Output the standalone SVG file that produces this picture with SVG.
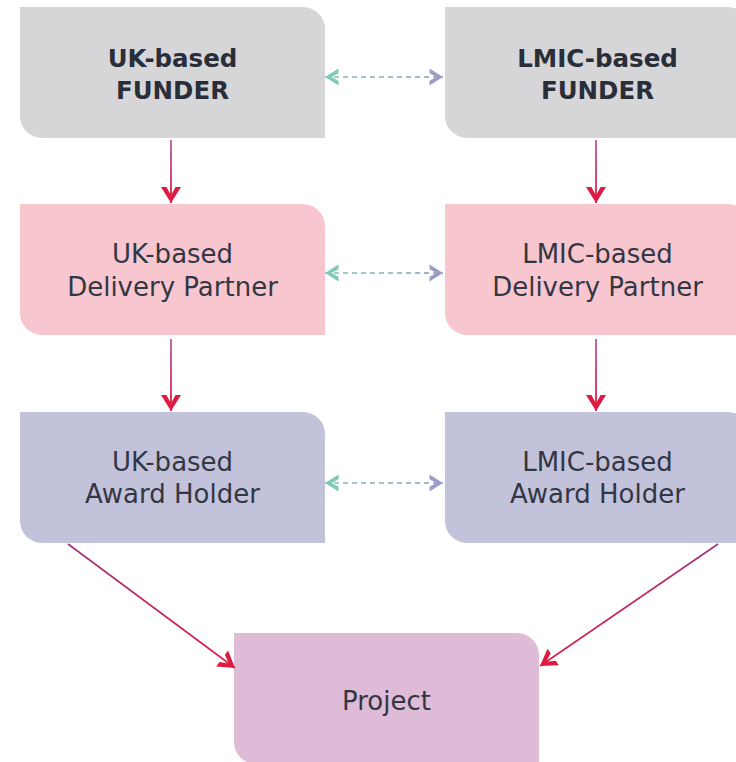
<svg xmlns="http://www.w3.org/2000/svg" width="736" height="762" viewBox="0 0 736 762">
  <style>
    .t { font-family: "DejaVu Sans", "Liberation Sans", sans-serif; font-size: 26px; fill: #333643; text-anchor: middle; }
    .b { font-weight: bold; font-size: 24.5px; fill: #2a2e39; }
    .funder { fill: #d6d6d9; }
    .partner { fill: #f8c6cf; }
    .holder { fill: #c2c2da; }
    .project { fill: #debbd6; }
    .flow { fill: none; stroke-width: 2; }
    .diag { fill: none; stroke-width: 1.6; }
    .link { fill: none; stroke-width: 2; stroke-dasharray: 5 4; }
  </style>
  <defs>
    <!-- card: square top-left / bottom-right, rounded top-right / bottom-left -->
    <path id="card" d="M0,0 H283 A22,22 0 0 1 305,22 V131 H22 A22,22 0 0 1 0,109 Z"/>

    <!-- bold chevron arrowheads, tip at the line end -->
    <marker id="headRed" viewBox="-18 -12 19 24" refX="0" refY="0" markerWidth="19" markerHeight="24" markerUnits="userSpaceOnUse" orient="auto">
      <path d="M0,0 L-16,-10 L-16,-4.5 L-7.5,0 L-16,4.5 L-16,10 Z" fill="#dc1a42"/>
    </marker>
    <marker id="headTeal" viewBox="-18 -12 19 24" refX="0" refY="0" markerWidth="19" markerHeight="24" markerUnits="userSpaceOnUse" orient="auto-start-reverse">
      <path d="M0,0 L-13.5,-8.5 L-13.5,-3.8 L-6.5,0 L-13.5,3.8 L-13.5,8.5 Z" fill="#80c9b6"/>
    </marker>
    <marker id="headLav" viewBox="-18 -12 19 24" refX="0" refY="0" markerWidth="19" markerHeight="24" markerUnits="userSpaceOnUse" orient="auto">
      <path d="M0,0 L-13.5,-8.5 L-13.5,-3.8 L-6.5,0 L-13.5,3.8 L-13.5,8.5 Z" fill="#9b9dc6"/>
    </marker>

    <!-- stroke gradients -->
    <linearGradient id="g1" gradientUnits="userSpaceOnUse" x1="0" y1="140" x2="0" y2="200">
      <stop offset="0" stop-color="#c06aa6"/><stop offset="1" stop-color="#e2305a"/>
    </linearGradient>
    <linearGradient id="g2" gradientUnits="userSpaceOnUse" x1="0" y1="339" x2="0" y2="408">
      <stop offset="0" stop-color="#c06aa6"/><stop offset="1" stop-color="#e2305a"/>
    </linearGradient>
    <linearGradient id="gL" gradientUnits="userSpaceOnUse" x1="68" y1="544" x2="235" y2="668">
      <stop offset="0" stop-color="#a0307e"/><stop offset="1" stop-color="#e21c44"/>
    </linearGradient>
    <linearGradient id="gR" gradientUnits="userSpaceOnUse" x1="718" y1="544" x2="540" y2="666">
      <stop offset="0" stop-color="#a0307e"/><stop offset="1" stop-color="#e21c44"/>
    </linearGradient>
    <linearGradient id="gD" gradientUnits="userSpaceOnUse" x1="325" y1="0" x2="443" y2="0">
      <stop offset="0" stop-color="#9fd0c4"/><stop offset="1" stop-color="#a9aed0"/>
    </linearGradient>
  </defs>

  <rect width="736" height="762" fill="#ffffff"/>

  <!-- nodes -->
  <g id="uk-funder">
    <use href="#card" x="20" y="7" class="funder"/>
    <text class="t b" x="172.5" y="67">UK-based</text>
    <text class="t b" x="172.5" y="99">FUNDER</text>
  </g>
  <g id="lmic-funder">
    <use href="#card" x="445" y="7" class="funder"/>
    <text class="t b" x="597.5" y="67">LMIC-based</text>
    <text class="t b" x="597.5" y="99">FUNDER</text>
  </g>
  <g id="uk-partner">
    <use href="#card" x="20" y="204" class="partner"/>
    <text class="t" x="172.5" y="263">UK-based</text>
    <text class="t" x="172.5" y="296">Delivery Partner</text>
  </g>
  <g id="lmic-partner">
    <use href="#card" x="445" y="204" class="partner"/>
    <text class="t" x="597.5" y="263">LMIC-based</text>
    <text class="t" x="597.5" y="296">Delivery Partner</text>
  </g>
  <g id="uk-holder">
    <use href="#card" x="20" y="412" class="holder"/>
    <text class="t" x="172.5" y="471">UK-based</text>
    <text class="t" x="172.5" y="503">Award Holder</text>
  </g>
  <g id="lmic-holder">
    <use href="#card" x="445" y="412" class="holder"/>
    <text class="t" x="597.5" y="471">LMIC-based</text>
    <text class="t" x="597.5" y="503">Award Holder</text>
  </g>
  <g id="project">
    <use href="#card" x="234" y="633" class="project"/>
    <text class="t" x="386.5" y="710">Project</text>
  </g>

  <!-- connectors -->
  <g id="connectors">
    <line class="flow" x1="171" y1="140" x2="171" y2="203" stroke="url(#g1)" marker-end="url(#headRed)"/>
    <line class="flow" x1="596" y1="140" x2="596" y2="203" stroke="url(#g1)" marker-end="url(#headRed)"/>
    <line class="flow" x1="171" y1="339" x2="171" y2="411" stroke="url(#g2)" marker-end="url(#headRed)"/>
    <line class="flow" x1="596" y1="339" x2="596" y2="411" stroke="url(#g2)" marker-end="url(#headRed)"/>
    <line class="diag" x1="68" y1="544" x2="235" y2="668" stroke="url(#gL)" marker-end="url(#headRed)"/>
    <line class="diag" x1="718" y1="544" x2="540" y2="666" stroke="url(#gR)" marker-end="url(#headRed)"/>

    <line class="link" x1="325" y1="77" x2="443" y2="77" stroke="url(#gD)" marker-start="url(#headTeal)" marker-end="url(#headLav)"/>
    <line class="link" x1="325" y1="273" x2="443" y2="273" stroke="url(#gD)" marker-start="url(#headTeal)" marker-end="url(#headLav)"/>
    <line class="link" x1="325" y1="483" x2="443" y2="483" stroke="url(#gD)" marker-start="url(#headTeal)" marker-end="url(#headLav)"/>
  </g>
</svg>
